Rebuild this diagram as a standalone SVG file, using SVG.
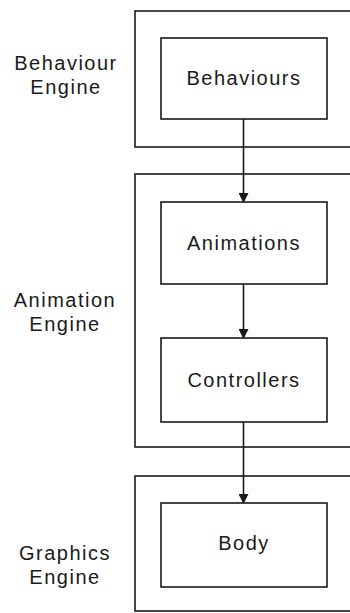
<svg xmlns="http://www.w3.org/2000/svg" width="350" height="613" viewBox="0 0 350 613">
<style>
.frame{fill:none;stroke:#1a1a1a;stroke-width:1.6}
.box{fill:#fff;stroke:#1a1a1a;stroke-width:1.6}
.t{font-family:"Liberation Sans",Arial,sans-serif;font-size:20px;fill:#1a1a1a;text-anchor:middle;letter-spacing:1.5px}
.c{stroke:#1a1a1a;stroke-width:1.6;fill:none;marker-end:url(#ah)}
</style>
<defs>
<marker id="ah" markerWidth="10" markerHeight="10" refX="9" refY="5" orient="auto" markerUnits="userSpaceOnUse" viewBox="0 0 10 10">
<path d="M0,0 L10,5 L0,10 Z" fill="#1a1a1a"/>
</marker>
</defs>
<rect width="350" height="613" fill="#fff"/>
<g id="behaviour-engine">
<rect class="frame" x="135" y="11" width="230" height="136"/>
<text class="t" x="66" y="70">Behaviour</text>
<text class="t" x="66" y="94">Engine</text>
</g>
<g id="animation-engine">
<rect class="frame" x="135" y="174" width="230" height="273"/>
<text class="t" x="65" y="307">Animation</text>
<text class="t" x="65" y="331">Engine</text>
</g>
<g id="graphics-engine">
<rect class="frame" x="135" y="476" width="230" height="135"/>
<text class="t" x="65" y="560">Graphics</text>
<text class="t" x="65" y="584">Engine</text>
</g>
<g id="behaviours">
<rect class="box" x="161" y="38" width="166" height="81"/>
<text class="t" x="244" y="85">Behaviours</text>
</g>
<g id="animations">
<rect class="box" x="161" y="202" width="166" height="82"/>
<text class="t" x="244" y="250">Animations</text>
</g>
<g id="controllers">
<rect class="box" x="161" y="338" width="166" height="84"/>
<text class="t" x="244" y="387">Controllers</text>
</g>
<g id="body">
<rect class="box" x="161" y="503" width="166" height="84"/>
<text class="t" x="244" y="550">Body</text>
</g>
<g id="connectors">
<line class="c" x1="243.5" y1="119" x2="243.5" y2="202"/>
<line class="c" x1="243.5" y1="284" x2="243.5" y2="338"/>
<line class="c" x1="243.5" y1="422" x2="243.5" y2="503"/>
</g>
</svg>
